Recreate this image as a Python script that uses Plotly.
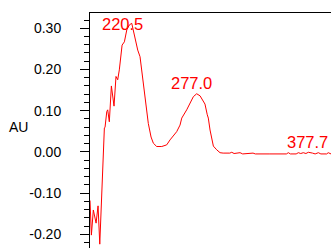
import numpy as np
import plotly.graph_objects as go

wavelength = [184.2, 185.4, 187.1, 189.5, 191.2, 192.7, 196.7, 197.3, 198.8, 199.6,
              201.0, 202.8, 205.1, 206.8, 208.3, 209.7, 212.1, 214.1, 216.2, 218.4,
              220.5, 222.8, 225.7, 227.7, 229.2, 232.1, 234.9, 237.3, 239.3, 242.2,
              246.6, 250.9, 253.8, 259.6, 262.5, 264.0, 268.3, 274.1, 277.0, 279.9,
              284.2, 286.2, 287.1, 288.6, 290.1, 291.5, 294.4, 297.3, 300.0, 305.8,
              307.5, 309.5, 314.7, 317.0, 326.0, 328.0, 340.0, 355.0, 356.7, 358.5,
              363.5, 365.4, 367.5, 369.7, 372.0, 374.1, 377.7, 380.0, 382.8, 385.0,
              390.0, 391.4, 393.8]
absorbance = [-0.118, -0.202, -0.141, -0.173, -0.131, -0.224, 0.058, 0.060, 0.098, 0.102,
              0.073, 0.160, 0.111, 0.183, 0.175, 0.199, 0.259, 0.267, 0.296, 0.308,
              0.312, 0.284, 0.247, 0.231, 0.195, 0.126, 0.069, 0.036, 0.021, 0.013,
              0.013, 0.017, 0.029, 0.049, 0.065, 0.082, 0.102, 0.134, 0.141, 0.136,
              0.116, 0.090, 0.082, 0.053, 0.029, 0.014, 0.005, -0.002, -0.003, -0.003,
              -0.001, -0.004, -0.002, -0.005, -0.003, -0.005, -0.005, -0.005, -0.002, -0.005,
              -0.005, -0.002, -0.004, -0.002, -0.004, -0.001, -0.003, -0.005, -0.002, -0.005,
              -0.005, -0.002, -0.005]

peak_x = [220.5, 277.0, 377.7]
peak_y = [0.312, 0.141, -0.001]
peak_labels = ["220.5", "277.0", "377.7"]

y_tickvals = [-0.20, -0.10, 0.00, 0.10, 0.20, 0.30]
y_ticktext = ["-0.20", "-0.10", "0.00", "0.10", "0.20", "0.30"]

FONT = "Liberation Sans, Arial, Helvetica, sans-serif"

fig = go.Figure()
fig.add_trace(go.Scatter(x=wavelength, y=absorbance, mode="lines",
                         line=dict(color="red", width=1), showlegend=False,
                         hoverinfo="skip"))

shifts = [(-9, -1), (-5, 11), (-5, 10)]
for px, py, lab, (dx, dy) in zip(peak_x, peak_y, peak_labels, shifts):
    fig.add_annotation(x=px, y=py, text=lab, showarrow=False,
                       xanchor="center", yanchor="middle", xshift=dx, yshift=dy,
                       font=dict(family=FONT, size=16.5, color="red"))

fig.add_annotation(x=-0.2975, y=0.516, xref="paper", yref="paper", text="AU",
                   showarrow=False, xanchor="center", yanchor="middle",
                   font=dict(family=FONT, size=14, color="black"))

minor_vals = [round(v, 2) for v in np.arange(-0.24, 0.345, 0.02)]

fig.update_layout(
    width=331, height=248,
    margin=dict(l=90, r=0, t=13, b=0, autoexpand=False),
    paper_bgcolor="white", plot_bgcolor="white",
    font=dict(family=FONT, size=14, color="black"),
    xaxis=dict(range=[184.2, 393.8], side="top", showline=True, linecolor="black",
               linewidth=1, showticklabels=False, ticks="", showgrid=False,
               zeroline=False, automargin=False),
    yaxis=dict(range=[-0.2333, 0.337], showline=True, linecolor="black", linewidth=1,
               tickmode="array", tickvals=y_tickvals, ticktext=y_ticktext,
               ticks="outside", ticklen=9, tickwidth=1, tickcolor="black",
               ticklabelstandoff=16, showgrid=False, zeroline=False, automargin=False,
               tickfont=dict(family=FONT, size=14, color="black"),
               minor=dict(tickmode="array", tickvals=minor_vals, ticks="outside",
                          ticklen=5, tickwidth=1, tickcolor="black", showgrid=False)),
)

fig.write_html("out.html", config={"displayModeBar": False},
               post_script="document.body.style.margin='0px';document.body.style.overflow='hidden';")
